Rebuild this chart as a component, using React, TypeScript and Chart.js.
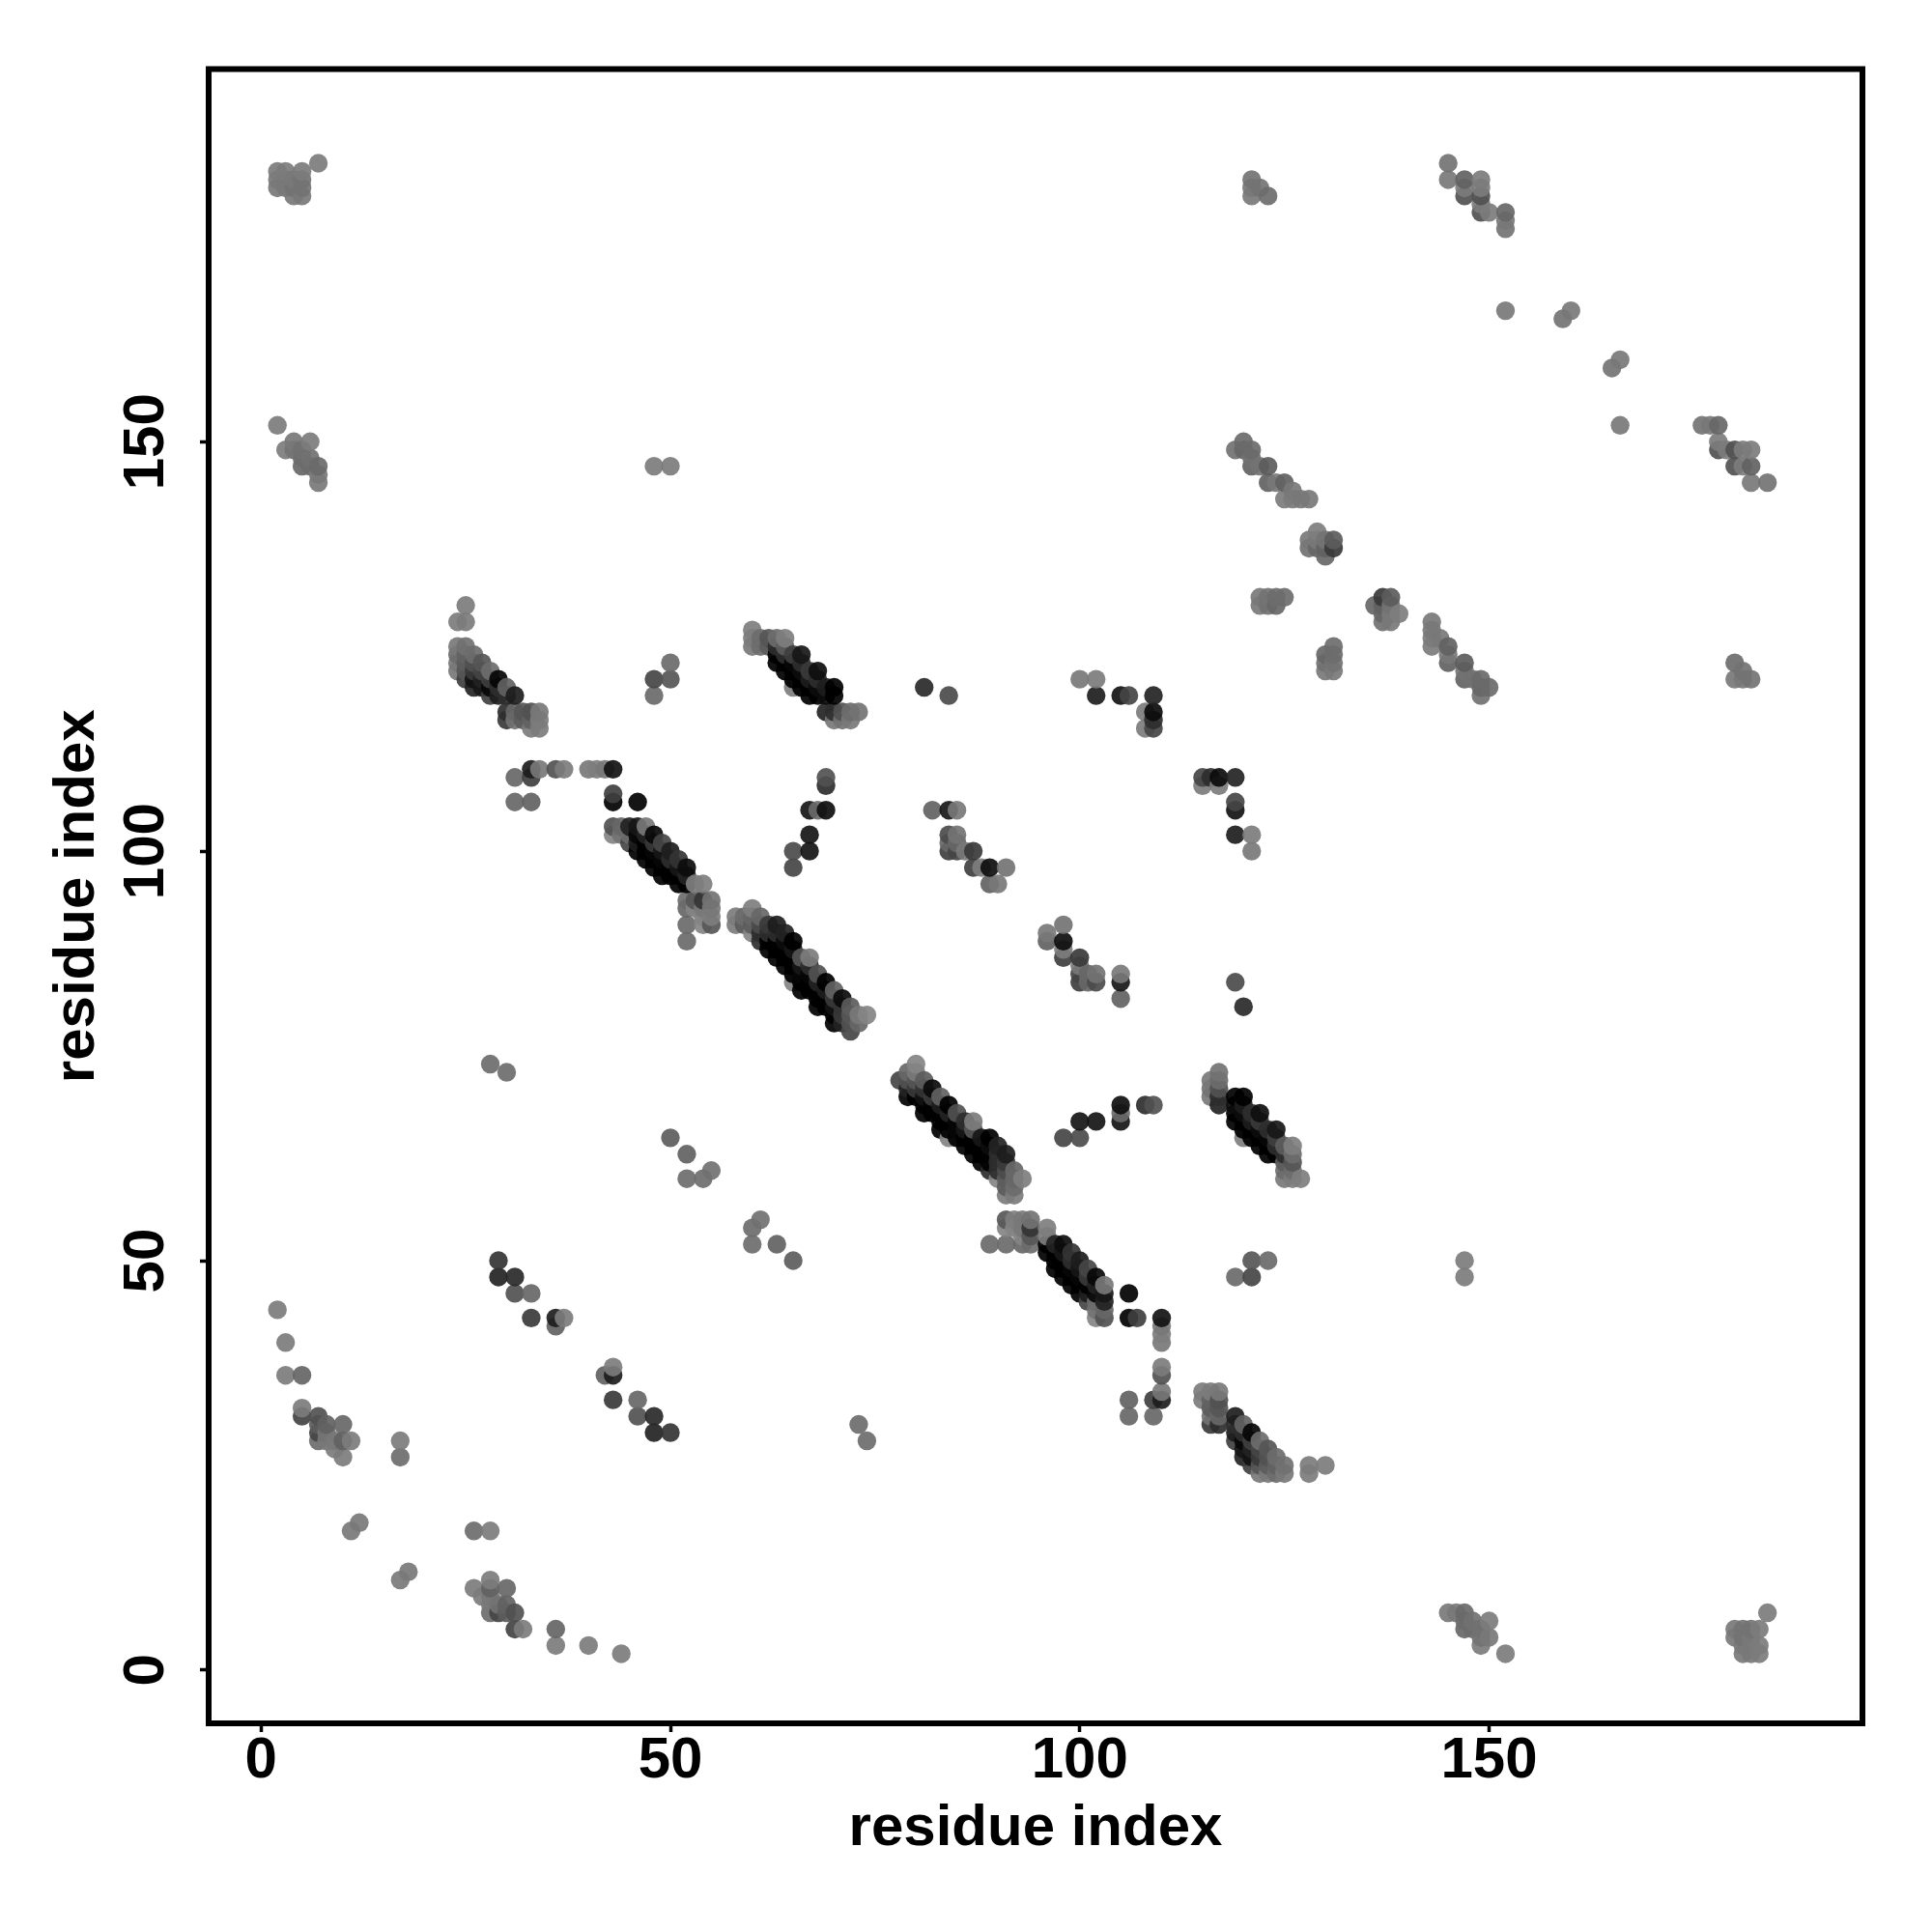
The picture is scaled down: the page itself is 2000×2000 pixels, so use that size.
import React, { useEffect, useRef } from "react";
import { Chart, registerables } from "chart.js";

Chart.register(...registerables);

// Each contact is [residue i, residue j, visible grey level]; the map is symmetric.
const terminalCornerA = [
  [2,181,125],[2,182,125],[2,183,128],[3,181,125],[3,182,125],[3,183,128],[4,180,125],[4,181,120],[4,182,125],
  [5,180,125],[5,181,120],[5,182,120],[5,183,128],[7,184,128],
];
const terminalCornerB = [
  [2,152,128],[3,149,128],[4,150,125],[4,149,120],[5,149,118],[5,148,115],[5,147,110],[6,150,128],[6,148,118],[6,147,115],
  [7,147,112],[7,146,125],[7,145,125],[48,147,128],[50,147,128],
];
const lowLeftContacts = [
  [2,44,128],[3,40,128],[3,36,128],[5,36,108],[5,31,78],[5,32,128],[7,28,115],[7,29,80],[7,30,100],[7,31,90],
  [8,28,125],[8,29,120],[8,30,105],[9,27,128],[9,28,125],[10,26,128],[10,28,105],[10,30,110],[11,28,128],
  [11,17,125],[12,18,125],[17,26,115],[17,28,128],
];
const middleStrand = [
  [29,48,50],[29,50,65],[31,46,90],[31,48,55],[33,43,70],[33,46,110],[36,42,105],[36,43,45],[37,43,128],
  [28,74,115],[30,73,115],[50,65,100],[52,63,105],[52,60,115],[54,60,115],[55,61,118],
];
const streakOne = [
  [24,128,128],[25,128,128],[25,130,128],[24,125,125],[25,125,118],[24,124,115],[25,124,105],[26,124,115],
  [24,123,125],[25,123,100],[26,123,90],[27,123,95],[24,122,125],[25,122,95],[26,122,70],[27,122,80],[28,122,115],
  [25,121,75],[26,121,35],[27,121,50],[28,121,75],[29,121,24],[26,120,50],[27,120,40],[28,120,25],[29,120,60],[30,120,105],
  [28,119,75],[29,119,45],[30,119,60],[31,119,45],
  [30,117,60],[30,116,70],[31,117,110],[31,116,120],[32,117,95],[32,116,100],[33,117,90],[33,116,105],[33,115,128],
  [34,117,125],[34,116,128],[34,115,128],
];
const streakTwo = [
  [60,127,130],[60,126,128],[60,125,125],[61,126,115],[61,125,115],[62,126,95],[62,125,100],[63,126,115],[64,126,130],
  [63,125,60],[63,124,20],[63,123,10],[64,125,100],[64,124,60],[64,123,10],[64,122,10],
  [65,124,75],[65,123,25],[65,122,10],[65,121,10],[65,120,130],
  [66,124,40],[66,123,60],[66,122,30],[66,121,10],[66,120,5],
  [67,122,70],[67,121,45],[67,120,10],[67,119,5],[68,122,32],[68,121,60],[68,120,30],[68,119,5],
  [69,120,45],[69,119,30],[70,120,15],[70,119,15],
  [69,117,50],[70,117,60],[71,117,90],[72,117,115],[73,117,120],[70,116,125],[71,116,120],[72,116,125],
];
const bridgeRow = [
  [31,109,110],[31,106,110],[33,110,45],[33,109,75],[33,106,105],[34,110,125],[36,110,90],[37,110,128],
  [40,110,125],[41,110,130],[42,110,125],[43,110,35],[43,107,75],[43,106,20],[46,106,20],
  [48,119,112],[48,121,80],[50,121,95],[50,123,112],
];
const streakFour = [
  [43,103,90],[43,102,135],[44,103,110],[44,102,120],[45,103,50],[45,102,115],[45,101,80],
  [46,103,40],[46,102,25],[46,101,45],[46,100,15],[47,103,125],[47,102,50],[47,101,10],[47,100,10],[47,99,10],
  [48,102,26],[48,101,70],[48,100,25],[48,99,10],[48,98,10],
  [49,101,80],[49,100,40],[49,99,25],[49,98,5],[49,97,5],[50,100,45],[50,99,60],[50,98,10],[50,97,5],
  [51,99,65],[51,98,40],[51,97,10],[51,96,5],[52,98,30],[52,97,50],[52,96,10],[53,96,130],[54,96,130],
  [52,94,115],[52,93,110],[52,91,112],[52,89,112],[53,94,96],[53,93,135],
  [54,94,65],[54,93,125],[54,92,135],[54,91,135],[55,94,120],[55,93,125],[55,92,130],[55,91,96],
];
const streakFive = [
  [58,92,128],[58,91,128],[59,92,115],[59,91,100],[60,93,130],[60,92,110],[60,91,100],[60,90,135],
  [61,92,110],[61,91,85],[61,90,60],[61,89,60],[62,91,70],[62,90,60],[62,89,20],[62,88,15],
  [63,91,45],[63,90,60],[63,89,20],[63,88,10],[63,87,10],[64,90,50],[64,89,30],[64,88,10],[64,87,5],[64,86,10],
  [65,89,8],[65,88,40],[65,87,10],[65,86,5],[65,85,10],[65,84,135],
  [66,87,95],[66,86,40],[66,85,25],[66,84,10],[66,83,10],[67,87,128],[67,86,60],[67,85,25],[67,84,10],[67,83,5],
  [68,85,90],[68,84,50],[68,83,20],[68,82,10],[68,81,10],[69,84,12],[69,83,45],[69,82,20],[69,81,5],
  [70,83,105],[70,82,70],[70,81,35],[70,80,20],[70,79,20],[71,82,28],[71,81,65],[71,80,70],[71,79,50],
  [72,81,100],[72,80,95],[72,79,90],[72,78,80],[73,80,125],[73,79,110],[74,80,135],
];
const sideArcs = [
  [65,98,80],[65,100,85],[67,100,38],[67,102,38],[67,105,38],[68,105,112],[69,105,32],[69,108,60],[69,109,90],
  [81,120,55],[84,119,85],[100,121,125],[102,121,128],[102,119,45],[105,119,35],[106,119,80],
  [108,117,128],[109,119,50],[109,117,30],[109,116,60],[109,115,80],[108,115,128],
];
const lateralPatch = [
  [82,105,105],[84,105,40],[85,105,125],[84,102,85],[85,102,120],[84,101,110],[85,101,110],[84,100,75],[85,100,80],
  [86,100,125],[87,100,70],[87,98,75],[88,98,130],[89,98,32],[91,98,120],[89,96,105],[90,96,125],
];
const cTerminalContacts = [
  [121,182,120],[121,181,125],[121,180,125],[122,181,120],[123,180,115],
  [145,184,120],[145,182,125],[147,182,105],[147,181,128],[147,180,90],[149,182,128],[149,181,128],[149,180,90],
  [149,179,128],[149,178,90],[150,178,128],[152,178,110],[152,177,125],[152,176,120],[152,166,125],
  [159,165,120],[160,166,125],
];
const upperBand = [
  [119,149,118],[120,150,112],[120,149,110],[121,149,112],[121,148,118],[121,147,105],[122,147,120],[123,147,100],
  [123,145,105],[124,145,125],[125,145,105],[126,144,125],[125,143,128],[126,143,128],[127,143,125],[128,143,125],
  [122,131,125],[122,130,125],[123,131,120],[123,130,118],[124,131,115],[124,130,110],[125,131,115],
  [128,138,125],[128,137,118],[129,139,130],[129,138,125],[129,137,110],[130,138,120],[130,137,105],[130,136,110],
  [131,138,100],[131,137,70],
];
const contactGroups = [
  terminalCornerA, terminalCornerB, lowLeftContacts, middleStrand, streakOne, streakTwo, bridgeRow,
  streakFour, streakFive, sideArcs, lateralPatch, cTerminalContacts, upperBand,
];
const tickValues = [0, 50, 100, 150];
const axisTitle = "residue index";

const FONT = { family: "'Liberation Sans', Arial, sans-serif", weight: "bold" as const, size: 60, lineHeight: 1 };
const ALPHA = 0.92;

function colorFor(level: number) {
  const g = Math.max(0, Math.round((level * 1.05 - 255 * (1 - ALPHA)) / ALPHA));
  return `rgba(${g},${g},${g},${ALPHA})`;
}

export default function App() {
  const ref = useRef<HTMLCanvasElement | null>(null);
  useEffect(() => {
    if (!ref.current) return;
    const pts: { x: number; y: number; level: number }[] = [];
    for (const group of contactGroups) {
      for (const [i, j, level] of group as number[][]) {
        pts.push({ x: i, y: j, level });
        pts.push({ x: j, y: i, level });
      }
    }
    pts.sort((a, b) => a.x - b.x || a.y - b.y);
    const frame = {
      id: "frame",
      afterDraw(chart: any) {
        const { ctx, chartArea: a } = chart;
        ctx.save();
        ctx.strokeStyle = "#000";
        ctx.lineWidth = 6;
        ctx.strokeRect(a.left, a.top, a.right - a.left, a.bottom - a.top);
        ctx.restore();
      },
    };
    const setTicks = (scale: any) => {
      scale.ticks = tickValues.map((value) => ({ value }));
    };
    const grid = { display: true, drawOnChartArea: false, drawTicks: true, tickLength: 9, tickWidth: 3.5, tickColor: "#000" };
    const chart = new Chart(ref.current, {
      type: "scatter",
      data: {
        datasets: [
          {
            data: pts.map((p) => ({ x: p.x, y: p.y })),
            pointRadius: 9.7,
            pointBorderWidth: 0,
            pointBackgroundColor: pts.map((p) => colorFor(p.level)),
          } as any,
        ],
      },
      options: {
        responsive: false,
        animation: false,
        devicePixelRatio: 1,
        events: [],
        layout: { padding: { top: 71.5, right: 72, left: 0, bottom: 0 } },
        plugins: { legend: { display: false }, tooltip: { enabled: false } },
        scales: {
          x: {
            type: "linear",
            min: -6.4,
            max: 195.6,
            afterBuildTicks: setTicks,
            afterFit: (s: any) => { s.height = 216; },
            border: { display: false },
            grid,
            ticks: { font: FONT, color: "#000", padding: 0, maxRotation: 0, autoSkip: false, callback: (v: any) => String(v) },
            title: { display: true, text: axisTitle, color: "#000", font: FONT, padding: { top: 0, bottom: 77 } },
          },
          y: {
            type: "linear",
            min: -6.5,
            max: 195.5,
            afterBuildTicks: setTicks,
            afterFit: (s: any) => { s.width = 216; },
            border: { display: false },
            grid,
            ticks: { font: FONT, color: "#000", padding: 4, minRotation: 90, maxRotation: 90, crossAlign: "center", autoSkip: false, callback: (v: any) => String(v) },
            title: { display: true, text: axisTitle, color: "#000", font: FONT, padding: { top: 50, bottom: 0 } },
          },
        },
      } as any,
      plugins: [frame],
    });
    return () => chart.destroy();
  }, []);
  return (
    <canvas
      ref={ref}
      width={2000}
      height={2000}
      style={{ position: "absolute", left: 0, top: 0, width: 2000, height: 2000, background: "#fff" }}
    />
  );
}
